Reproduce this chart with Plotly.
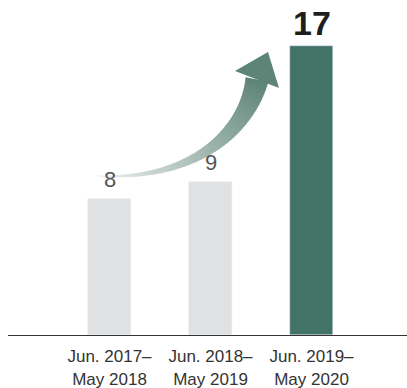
import plotly.graph_objects as go
import numpy as np

categories = ["Jun. 2017–<br>May 2018", "Jun. 2018–<br>May 2019", "Jun. 2019–<br>May 2020"]
values = [8, 9, 17]
bar_colors = ["#e0e1e3", "#e0e1e3", "#437266"]

W, H = 407, 388
ML, MR, MT, MB = 8, 0, 8, 53
PX_PER_X = 101.0
PX_PER_Y = 17.0
x0 = -1.005
plot_w = W - ML - MR
plot_h = H - MT - MB
xr = [x0, x0 + plot_w / PX_PER_X]
yr = [0, plot_h / PX_PER_Y]

def to_data(px, py):
    return (x0 + (px - ML) / PX_PER_X, (H - MB - py) / PX_PER_Y)

fig = go.Figure()
fig.add_trace(go.Bar(
    x=list(range(len(categories))), y=values, marker_color=bar_colors,
    width=0.426, hoverinfo="skip", showlegend=False,
))

# decorative gradient arrow (page-pixel design, converted to data coords)
P0 = np.array([97.0, 176.0]); P1 = np.array([200.0, 181.0])
P2 = np.array([248.0, 126.0]); P3 = np.array([257.0, 79.5])
def bez(t):
    return ((1-t)**3)*P0 + 3*((1-t)**2)*t*P1 + 3*(1-t)*t*t*P2 + (t**3)*P3
def dbez(t):
    return 3*((1-t)**2)*(P1-P0) + 6*(1-t)*t*(P2-P1) + 3*t*t*(P3-P2)

c_start = np.array([242, 245, 244]); c_end = np.array([93, 132, 118])
N = 60
shapes = []
def edge(t):
    p = bez(t); d = dbez(t); d = d/np.linalg.norm(d)
    n = np.array([-d[1], d[0]])
    w = 0.6 + 11.0 * (t ** 1.15)
    return p + n*w, p - n*w
for i in range(N):
    ta, tb = i/N, min(1.0, (i+1.3)/N)
    a1, a2 = edge(ta); b1, b2 = edge(tb)
    pts = [a1, b1, b2, a2]
    dp = [to_data(*p) for p in pts]
    path = "M " + " L ".join(f"{x:.5f},{y:.5f}" for x, y in dp) + " Z"
    tc = (i + 0.5) / N
    c = c_start + (c_end - c_start) * (tc ** 0.8)
    col = f"rgb({int(c[0])},{int(c[1])},{int(c[2])})"
    shapes.append(dict(type="path", path=path, xref="x", yref="y",
                       fillcolor=col, line=dict(width=0), layer="above"))
head = [(235, 71), (268, 52), (279, 88)]
dp = [to_data(*p) for p in head]
path = "M " + " L ".join(f"{x:.5f},{y:.5f}" for x, y in dp) + " Z"
shapes.append(dict(type="path", path=path, xref="x", yref="y",
                   fillcolor="rgb(93,132,118)", line=dict(width=0), layer="above"))

annotations = []
for i, v in enumerate(values):
    last = i == len(values) - 1
    annotations.append(dict(
        x=i, y=v, xref="x", yref="y", text=str(v), showarrow=False,
        yanchor="middle", yshift=23 if last else 20,
        font=dict(family="Liberation Sans, Arial, sans-serif",
                  size=34 if last else 22,
                  color="#1e1e1e" if last else "#555555",
                  weight=700 if last else 300),
    ))

fig.update_layout(
    width=W, height=H, margin=dict(l=ML, r=MR, t=MT, b=MB),
    paper_bgcolor="white", plot_bgcolor="white",
    shapes=shapes, annotations=annotations,
    xaxis=dict(range=xr, tickvals=list(range(len(categories))), ticktext=categories,
               showgrid=False, zeroline=False, showline=True, linecolor="#333333",
               linewidth=1, ticks="", ticklabelstandoff=6,
               tickfont=dict(family="Liberation Sans, Arial, sans-serif",
                             size=17, color="#333333"),
               fixedrange=True),
    yaxis=dict(range=yr, visible=False, showgrid=False, zeroline=False, fixedrange=True),
    bargap=0,
)
fig.write_html("out.html", config={"displayModeBar": False},
               post_script="document.body.style.margin='0';document.body.style.padding='0';document.body.style.overflow='hidden';")
